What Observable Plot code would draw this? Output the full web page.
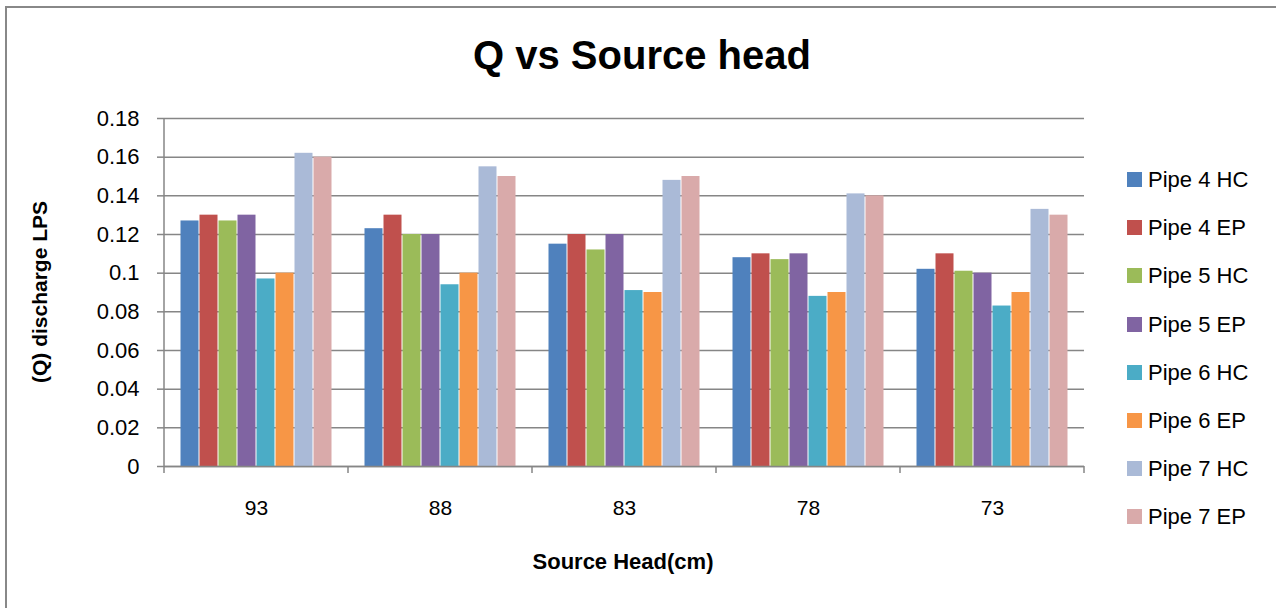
<!DOCTYPE html>
<html>
<head>
<meta charset="utf-8">
<script src="https://cdn.jsdelivr.net/npm/d3@7"></script>
<script src="https://cdn.jsdelivr.net/npm/@observablehq/plot@0.6"></script>
<style>
  html, body { margin: 0; padding: 0; background: #fff; }
  #wrap { position: relative; width: 1276px; height: 608px; overflow: hidden; font-family: "Liberation Sans", Arial, sans-serif; color: #000; }
  #border { position: absolute; left: 5px; top: 6px; width: 1300px; height: 640px; border: 2px solid #888; box-sizing: border-box; }
  #chart { position: absolute; left: 0; top: 0; }
  #title { position: absolute; left: 0; width: 1284px; top: 30px; text-align: center; font-weight: bold; font-size: 40px; line-height: 50px; }
  #xlabel { position: absolute; left: 0; width: 1246px; top: 548px; text-align: center; font-weight: bold; font-size: 22px; line-height: 28px; }
  #ylabel { position: absolute; left: 40px; top: 292px; transform: translate(-50%, -50%) rotate(-90deg); white-space: nowrap; font-weight: bold; font-size: 21px; line-height: 26px; }
  #legend { position: absolute; left: 1127px; top: 167px; }
  .item { position: absolute; left: 0; white-space: nowrap; font-size: 22px; line-height: 26px; height: 26px; }
  .sw { position: absolute; left: 0; top: 5px; width: 15px; height: 15px; }
  .lt { position: absolute; left: 21px; top: 0; }
</style>
</head>
<body>
<div id="wrap">
  <div id="border"></div>
  <div id="chart"></div>
  <div id="title"></div>
  <div id="xlabel"></div>
  <div id="ylabel"></div>
  <div id="legend"></div>
</div>
<script>
const titleText = "Q vs Source head";
const xTitle = "Source Head(cm)";
const yTitle = "(Q) discharge LPS";
const heads = ["93", "88", "83", "78", "73"];
const series = ["Pipe 4 HC", "Pipe 4 EP", "Pipe 5 HC", "Pipe 5 EP", "Pipe 6 HC", "Pipe 6 EP", "Pipe 7 HC", "Pipe 7 EP"];
const colors = ["#4F81BD", "#C0504D", "#9BBB59", "#8064A2", "#4BACC6", "#F79646", "#AABAD7", "#D9AAAA"];
const pipe4HC = [0.127, 0.123, 0.115, 0.108, 0.102];
const pipe4EP = [0.13, 0.13, 0.12, 0.11, 0.11];
const pipe5HC = [0.127, 0.12, 0.112, 0.107, 0.101];
const pipe5EP = [0.13, 0.12, 0.12, 0.11, 0.10];
const pipe6HC = [0.097, 0.094, 0.091, 0.088, 0.083];
const pipe6EP = [0.10, 0.10, 0.09, 0.09, 0.09];
const pipe7HC = [0.162, 0.155, 0.148, 0.141, 0.133];
const pipe7EP = [0.16, 0.15, 0.15, 0.14, 0.13];
const yTicks = [0, 0.02, 0.04, 0.06, 0.08, 0.1, 0.12, 0.14, 0.16, 0.18];
const yTickLabels = ["0", "0.02", "0.04", "0.06", "0.08", "0.1", "0.12", "0.14", "0.16", "0.18"];

const seriesValues = [pipe4HC, pipe4EP, pipe5HC, pipe5EP, pipe6HC, pipe6EP, pipe7HC, pipe7EP];
const rows = [];
series.forEach((s, i) => heads.forEach((h, j) => rows.push({series: s, head: h, value: seriesValues[i][j]})));

const axisColor = "#868686";
const font = "Liberation Sans, Arial, sans-serif";

const plot = Plot.plot({
  width: 1276,
  height: 608,
  marginTop: 118,
  marginBottom: 142,
  marginLeft: 163,
  marginRight: 191,
  style: {fontFamily: font, background: "transparent", color: "#000"},
  fx: {domain: heads, padding: 0, label: null},
  x: {domain: series, paddingInner: 0, paddingOuter: 0.8, axis: null, label: null},
  y: {domain: [0, 0.18], axis: null, label: null},
  color: {domain: series, range: colors},
  marks: [
    Plot.gridY(yTicks, {stroke: axisColor, strokeOpacity: 1, strokeWidth: 1.5}),
    Plot.axisY(yTicks, {
      tickSize: 7, tickPadding: 18, fontSize: 22, stroke: axisColor, strokeWidth: 1.5,
      tickFormat: (d) => yTickLabels[yTicks.indexOf(d)], label: null, color: "#000"
    }),
    Plot.barY(rows, {fx: "head", x: "series", y: "value", fill: "series", insetLeft: 0.5, insetRight: 0.5}),
    Plot.ruleY([0], {stroke: axisColor, strokeWidth: 1.5}),
    Plot.axisFx({anchor: "bottom", tickSize: 0, tickPadding: 34, fontSize: 21, label: null})
  ]
});
document.getElementById("chart").appendChild(plot);

// y-axis line and category boundary ticks, placed with the plot's own scales
const fx = plot.scale("fx");
const ys = plot.scale("y");
const svg = d3.select(plot);
const y0 = ys.apply(0), yTop = ys.apply(0.18);
const xStart = fx.apply(heads[0]);
const g = svg.append("g").attr("stroke", axisColor).attr("stroke-width", 1.5);
g.append("line").attr("x1", xStart).attr("x2", xStart).attr("y1", yTop).attr("y2", y0);
heads.forEach((h) => {
  const x = fx.apply(h);
  g.append("line").attr("x1", x).attr("x2", x).attr("y1", y0).attr("y2", y0 + 7);
});
const xEnd = fx.apply(heads[heads.length - 1]) + fx.bandwidth;
g.append("line").attr("x1", xEnd).attr("x2", xEnd).attr("y1", y0).attr("y2", y0 + 7);

document.getElementById("title").textContent = titleText;
document.getElementById("xlabel").textContent = xTitle;
document.getElementById("ylabel").textContent = yTitle;
const legend = document.getElementById("legend");
series.forEach((s, i) => {
  const item = document.createElement("div");
  item.className = "item";
  item.style.top = (i * 48.2) + "px";
  item.innerHTML = `<div class="sw" style="background:${colors[i]}"></div><div class="lt"></div>`;
  item.querySelector(".lt").textContent = s;
  legend.appendChild(item);
});
</script>
</body>
</html>
